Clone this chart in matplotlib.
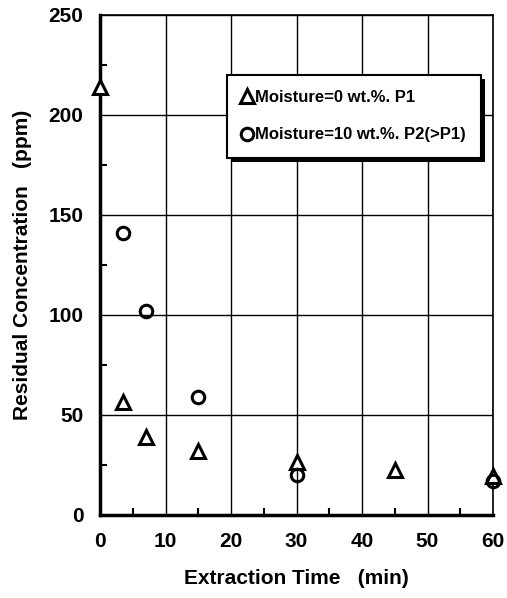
import matplotlib
matplotlib.use("Agg")
import matplotlib.pyplot as plt
from matplotlib.ticker import MultipleLocator
from matplotlib.patches import Rectangle

plt.rcParams['font.family'] = ['Liberation Sans', 'DejaVu Sans']
plt.rcParams['font.weight'] = 'bold'

time_p1 = [0, 3.5, 7, 15, 30, 45, 60]
conc_p1 = [214, 56.5, 39, 32, 26.5, 22.5, 19.5]
time_p2 = [3.5, 7, 15, 30, 60]
conc_p2 = [141, 102, 59, 20, 17]
label_p1 = "Moisture=0 wt.%. P1"
label_p2 = "Moisture=10 wt.%. P2(>P1)"

fig = plt.figure(figsize=(5.07, 5.98), dpi=100)
ax = fig.add_axes([100/507, 1-515/598, 393/507, 500/598])

ax.plot(time_p1, conc_p1, linestyle='none', marker='^', markersize=10.5,
        markerfacecolor='white', markeredgecolor='black', markeredgewidth=2.2,
        label=label_p1, zorder=4, clip_on=False)
ax.plot(time_p2, conc_p2, linestyle='none', marker='o', markersize=9,
        markerfacecolor='none', markeredgecolor='black', markeredgewidth=2.2,
        label=label_p2, zorder=5, clip_on=False)

ax.set_xlim(0, 60)
ax.set_ylim(0, 250)
ax.xaxis.set_major_locator(MultipleLocator(10))
ax.xaxis.set_minor_locator(MultipleLocator(5))
ax.yaxis.set_major_locator(MultipleLocator(50))
ax.yaxis.set_minor_locator(MultipleLocator(25))
ax.grid(True, which='major', color='black', linewidth=1.0)
ax.set_axisbelow(True)
ax.tick_params(which='both', direction='in', length=0, labelsize=15, pad=12)
ax.tick_params(which='minor', length=5, width=1.5)
for lab in ax.get_xticklabels() + ax.get_yticklabels():
    lab.set_fontweight('bold')

for s in ['left', 'bottom']:
    ax.spines[s].set_linewidth(2.5)
for s in ['top', 'right']:
    ax.spines[s].set_linewidth(1.2)

ax.set_xlabel("Extraction Time   (min)", fontsize=15, fontweight='bold', labelpad=13)
ax.set_ylabel("Residual Concentration   (ppm)", fontsize=15, fontweight='bold', labelpad=12)

leg = ax.legend(loc='upper left', bbox_to_anchor=(0.323, 0.88), frameon=True,
                fancybox=False, edgecolor='black', framealpha=1,
                handlelength=0.6, handletextpad=0.2, borderpad=0.9,
                labelspacing=1.35, prop={'size': 12, 'weight': 'bold'},
                borderaxespad=0)
leg.get_frame().set_linewidth(1.5)
leg.set_zorder(10)

fig.canvas.draw()
bb = leg.get_window_extent()
sh = Rectangle((bb.x0 + 4, bb.y0 - 4), bb.width, bb.height, transform=None,
               facecolor='black', edgecolor='none', zorder=9)
ax.add_artist(sh)

fig.savefig("out.png", dpi=100)
